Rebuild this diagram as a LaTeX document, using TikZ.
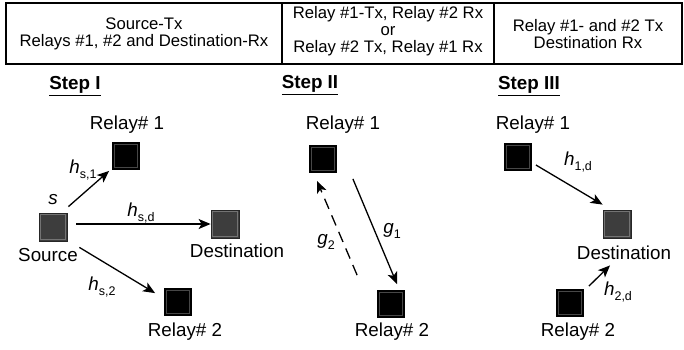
\documentclass[tikz,border=0pt]{standalone}
\usepackage{fontspec}
\setmainfont{Liberation Sans}
\usetikzlibrary{arrows.meta}
\newcommand{\lbl}[2]{{\itshape #1}\raisebox{-0.28em}{\fontsize{12.5}{12.5}\selectfont #2}}
\begin{document}
\begin{tikzpicture}[x=1pt,y=-1pt,
  txt/.style={font=\fontsize{18.8}{20}\selectfont, inner sep=0pt},
  head/.style={font=\fontsize{18.8}{20}\selectfont\bfseries, inner sep=0pt},
  tab/.style={font=\fontsize{16.7}{17}\selectfont, align=center, inner sep=0pt},
  relaysq/.style={draw=black, line width=0.8pt, minimum size=27pt, inner sep=0pt, fill=black,
    path picture={\draw[black!72, line width=0.9pt] ([shift={(1.6pt,1.6pt)}]path picture bounding box.south west) rectangle ([shift={(-1.6pt,-1.6pt)}]path picture bounding box.north east);}},
  nodesq/.style={draw=black!85, line width=0.8pt, minimum size=28pt, inner sep=0pt, fill=black!76,
    path picture={\draw[black!55, line width=0.9pt] ([shift={(1.6pt,1.6pt)}]path picture bounding box.south west) rectangle ([shift={(-1.6pt,-1.6pt)}]path picture bounding box.north east);}},
  arr/.style={line width=1.3pt, -{Stealth[length=12pt,width=10pt,inset=3pt]}},
  darr/.style={arr, dash pattern=on 11pt off 7pt}
]
\useasboundingbox (0,0) rectangle (684,349);
% table
\draw[line width=1.2pt] (6,3) rectangle (682,64);
\draw[line width=1.2pt] (282,3) -- (282,64);
\draw[line width=1.2pt] (494,3) -- (494,64);
\node[tab] (t1) at (144,34) {Source-Tx\\Relays \#1, \#2 and Destination-Rx};
\node[tab] (t2) at (388,31) {Relay \#1-Tx, Relay \#2 Rx\\or\\Relay \#2 Tx, Relay \#1 Rx};
\node[tab] (t3) at (588,34) {Relay \#1- and \#2 Tx\\Destination Rx};

% Step I
\node[head] (h1) at (75,86) {\underline{Step I}};
\node[txt] (r1alab) at (127,125) {Relay\# 1};
\node[relaysq] (r1a) at (126,156) {};
\node[nodesq] (src) at (53,227) {};
\node[txt] (slab) at (53,200) {\itshape s};
\node[txt] (srclab) at (48,255) {Source};
\node[nodesq] (dsta) at (225,224) {};
\node[txt] (dstalab) at (237,251) {Destination};
\node[relaysq] (r2a) at (178,302) {};
\node[txt] (r2alab) at (185,332) {Relay\# 2};
\draw[arr] ([shift={(1pt,6pt)}]src.north east) -- ([shift={(-3pt,-1pt)}]r1a.south west);
\draw[arr] ([xshift=9pt]src.east |- dsta.west) -- (dsta.west);
\draw[arr] ([shift={(12pt,-6pt)}]src.south east) -- ([shift={(-9pt,-5pt)}]r2a.north west);
\node[txt] (l1) at (83,170) {\lbl{h}{s,1}};
\node[txt] (l2) at (141,213) {\lbl{h}{s,d}};
\node[txt] (l3) at (102,287) {\lbl{h}{s,2}};

% Step II
\node[head] (h2) at (310,85) {\underline{Step II}};
\node[txt] (r1blab) at (343,125) {Relay\# 1};
\node[relaysq] (r1b) at (323,159) {};
\node[relaysq] (r2b) at (391,304) {};
\node[txt] (r2blab) at (392,332) {Relay\# 2};
\draw[arr] ([shift={(16pt,-6pt)}]r1b.south east) -- ([shift={(6pt,6pt)}]r2b.north);
\draw[darr] ([shift={(-20pt,15pt)}]r2b.north west) -- ([shift={(-6pt,-8pt)}]r1b.south);
\node[txt] (g1) at (392,231) {\lbl{g}{1}};
\node[txt] (g2) at (326,242) {\lbl{g}{2}};

% Step III
\node[head] (h3) at (529,86) {\underline{Step III}};
\node[txt] (r1clab) at (533,125) {Relay\# 1};
\node[relaysq] (r1c) at (518,157) {};
\node[nodesq] (dstc) at (617,224) {};
\node[txt] (dstclab) at (624,253) {Destination};
\node[relaysq] (r2c) at (570,303) {};
\node[txt] (r2clab) at (578,332) {Relay\# 2};
\draw[arr] ([shift={(4pt,-8pt)}]r1c.east) -- ([shift={(0pt,5pt)}]dstc.north west);
\draw[arr] ([shift={(5pt,3pt)}]r2c.north east) -- ([shift={(-7pt,-27pt)}]dstc.south);
\node[txt] (l4) at (578,162) {\lbl{h}{1,d}};
\node[txt] (l5) at (618,292) {\lbl{h}{2,d}};
\end{tikzpicture}
\end{document}
